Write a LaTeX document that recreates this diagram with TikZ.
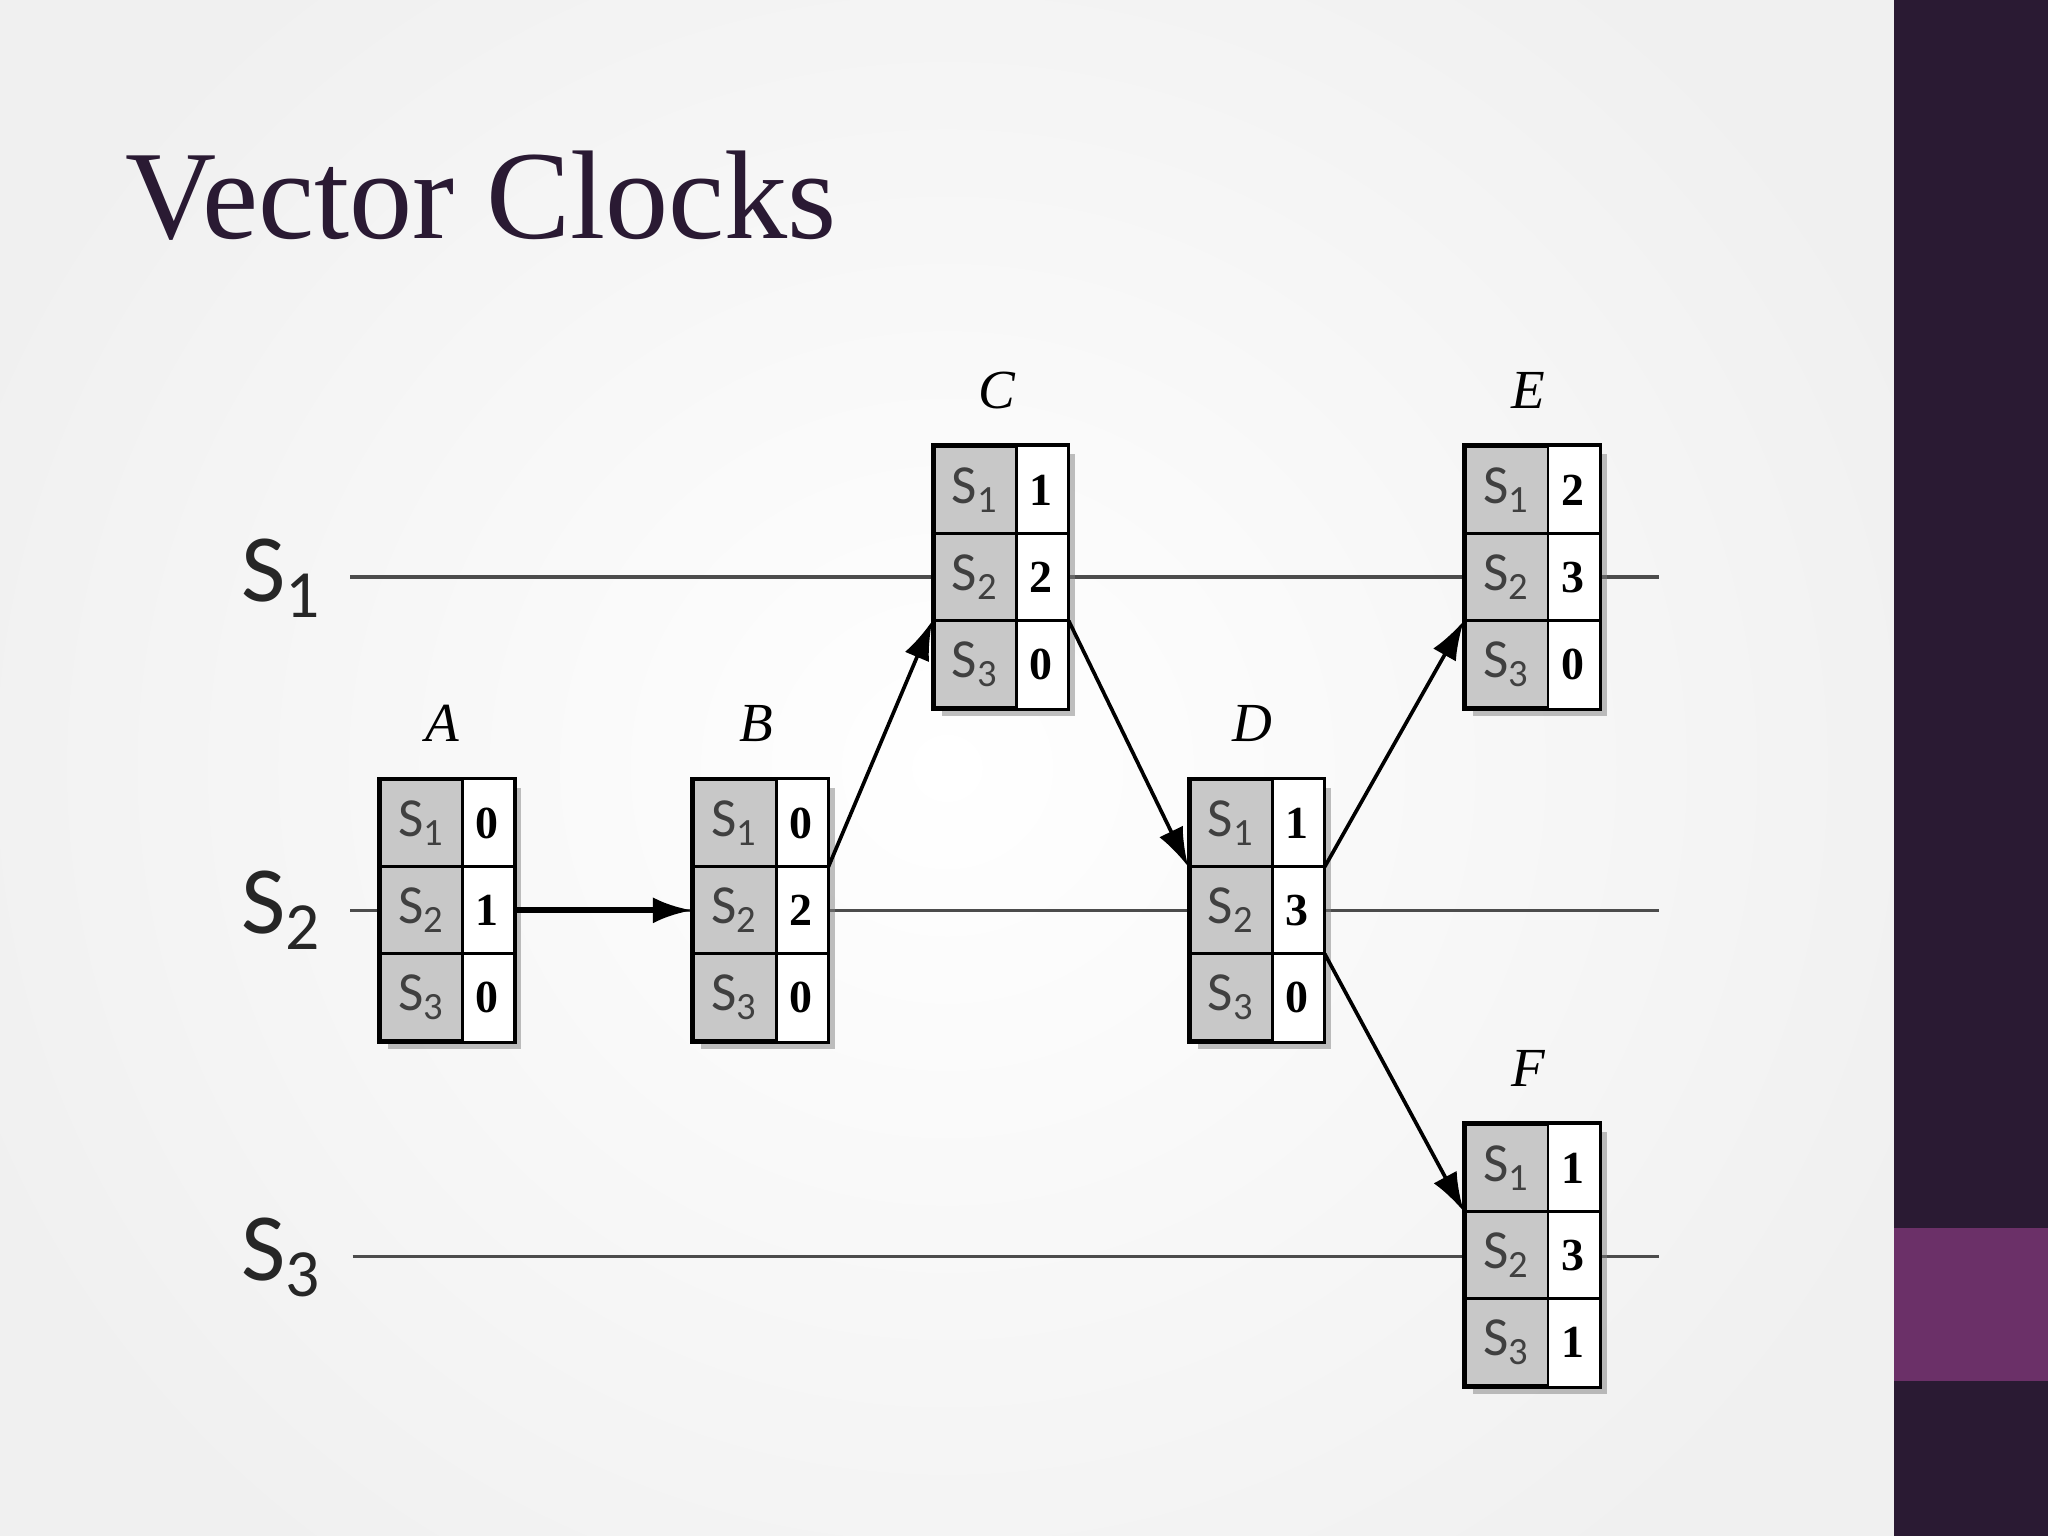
\documentclass[tikz,border=0pt]{standalone}
\usepackage{fontspec}
\setmainfont{Liberation Serif}
\newfontfamily\lblfont{Carlito}
\usetikzlibrary{calc,shadows,arrows.meta}
\definecolor{dark}{HTML}{2A1A33}
\definecolor{plum}{HTML}{6B3068}
\definecolor{cellgray}{HTML}{C8C8C8}
\newcommand{\subnum}[1]{\raisebox{-0.35ex}{\fontsize{0.7em}{0.7em}\selectfont #1}}
\tikzset{
  boxnode/.style={draw=black, line width=0.7pt, fill=cellgray, minimum width=1.02cm, minimum height=2.0cm, inner sep=0pt, drop shadow={shadow xshift=0.06cm, shadow yshift=-0.06cm, opacity=0.5}},
  tl/.style={draw=black!70, line width=0.8pt},
  msg/.style={draw=black, line width=0.8pt, -{Latex[length=3mm,width=2mm]}},
  cellS/.style={font=\lblfont\fontsize{12}{12}\selectfont, text=black!75},
  cellN/.style={font=\bfseries\fontsize{10}{10}\selectfont},
  evlabel/.style={font=\itshape\fontsize{12}{12}\selectfont},
  proc/.style={font=\lblfont\fontsize{21}{21}\selectfont, text=black!85}
}
\newcommand{\clockbox}[7]{%
  \node[boxnode] (#1) at (#2,#3) {};
  \fill[white] ($(#1.north east)+(-0.40,0)$) rectangle (#1.south east);
  \draw[line width=0.7pt] (#1.north west) rectangle (#1.south east);
  \draw[line width=0.6pt] ($(#1.north east)+(-0.40,0)$) -- ($(#1.south east)+(-0.40,0)$);
  \draw[line width=0.6pt] ($(#1.west)+(0,0.333)$) -- ($(#1.east)+(0,0.333)$);
  \draw[line width=0.6pt] ($(#1.west)+(0,-0.333)$) -- ($(#1.east)+(0,-0.333)$);
  \node[cellS] (#1s1) at ($(#1.center)+(-0.2,0.667)$) {S\subnum{1}};
  \node[cellS] (#1s2) at ($(#1.center)+(-0.2,0)$) {S\subnum{2}};
  \node[cellS] (#1s3) at ($(#1.center)+(-0.2,-0.667)$) {S\subnum{3}};
  \node[cellN] (#1v1) at ($(#1.center)+(0.31,0.667)$) {#4};
  \node[cellN] (#1v2) at ($(#1.center)+(0.31,0)$) {#5};
  \node[cellN] (#1v3) at ($(#1.center)+(0.31,-0.667)$) {#6};
  \node[evlabel] (#1lab) at ($(#1.north)+(-0.03,0.42)$) {#7};
}
\begin{document}
\begin{tikzpicture}
\useasboundingbox (0,0) rectangle (15.68,11.76);
\fill[gray!12] (0,0) rectangle (14.5,11.76);
\shade[inner color=white, outer color=gray!12] (-1,-2) rectangle (15.5,13.76);
\fill[dark] (14.5,0) rectangle (15.68,11.76);
\fill[plum] (14.5,1.19) rectangle (15.68,2.36);
\node[anchor=base west, inner sep=0pt, text=dark, font=\fontsize{27.5}{28}\selectfont] (title) at (0.95,9.93) {Vector Clocks};
% process labels
\node[proc] (p1) at (2.15,7.33) {S\subnum{1}};
\node[proc] (p2) at (2.15,4.79) {S\subnum{2}};
\node[proc] (p3) at (2.15,2.13) {S\subnum{3}};
\coordinate (l1s) at (2.68,7.34); \coordinate (l1e) at (12.70,7.34);
\coordinate (l2s) at (2.68,4.79); \coordinate (l2e) at (12.70,4.79);
\coordinate (l3s) at (2.70,2.14); \coordinate (l3e) at (12.70,2.14);
\draw[tl] (l1s) -- (l1e);
\draw[tl] (l2s) -- (l2e);
\draw[tl] (l3s) -- (l3e);
\clockbox{A}{3.42}{4.79}{0}{1}{0}{A}
\clockbox{B}{5.82}{4.79}{0}{2}{0}{B}
\clockbox{C}{7.66}{7.34}{1}{2}{0}{C}
\clockbox{D}{9.62}{4.79}{1}{3}{0}{D}
\clockbox{E}{11.73}{7.34}{2}{3}{0}{E}
\clockbox{F}{11.73}{2.15}{1}{3}{1}{F}
\draw[msg, line width=1.3pt] (A.east) -- (B.west);
\draw[msg] ($(B.east)+(0,0.333)$) -- ($(C.west)+(0,-0.333)$);
\draw[msg] ($(C.east)+(0,-0.333)$) -- ($(D.west)+(0,0.333)$);
\draw[msg] ($(D.east)+(0,0.333)$) -- ($(E.west)+(0,-0.333)$);
\draw[msg] ($(D.east)+(0,-0.333)$) -- ($(F.west)+(0,0.333)$);
\end{tikzpicture}
\end{document}
